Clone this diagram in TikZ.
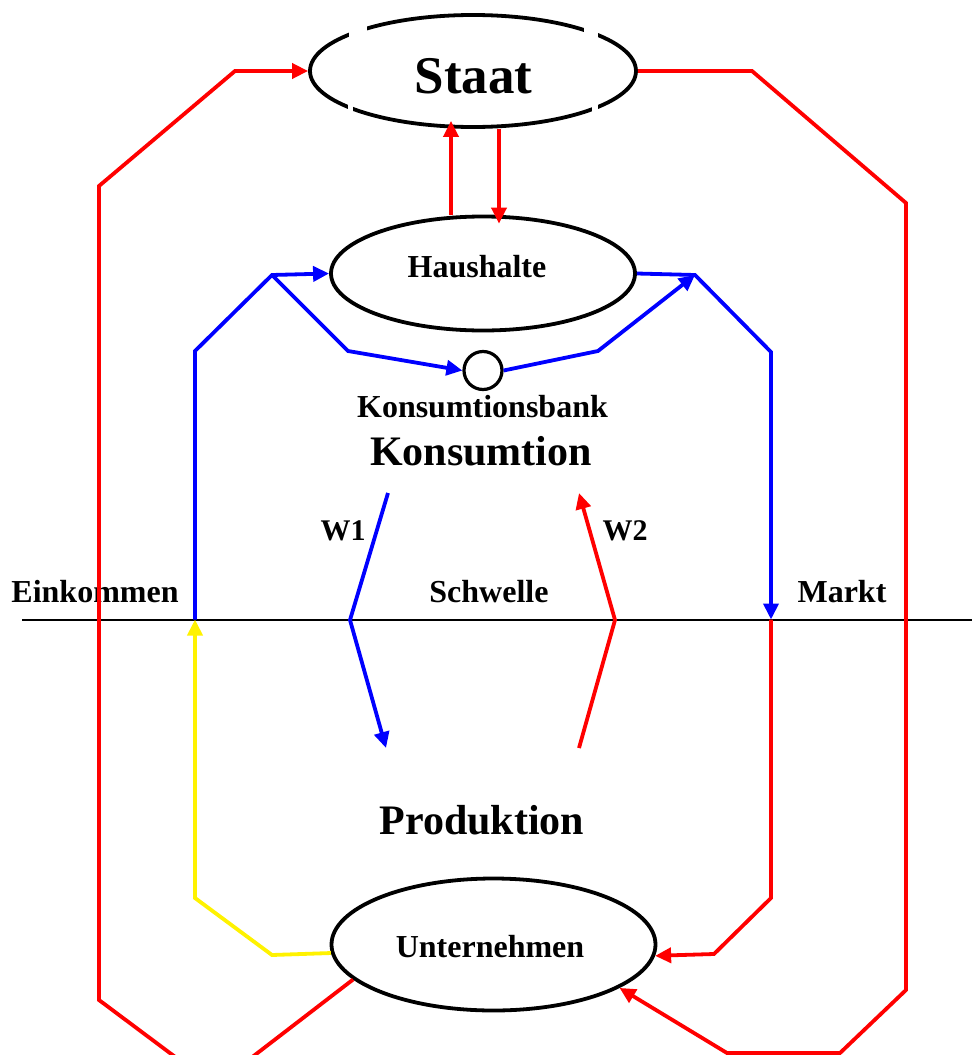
\documentclass[tikz,border=0pt]{standalone}
\usepackage{fontspec}
\setmainfont{Liberation Serif}
\usetikzlibrary{arrows.meta,shapes.geometric,calc}

\begin{document}
\begin{tikzpicture}[x=1pt,y=-1pt,
  oval/.style={draw=black, line width=3.8pt, ellipse, inner sep=0pt},
  txt/.style={font=\bfseries\fontsize{32}{38}\selectfont, inner sep=0pt, anchor=base},
  big/.style={font=\bfseries\fontsize{42}{48}\selectfont},
  flow/.style={line width=3.8pt, line join=miter},
  tip/.style={-{Triangle[length=16pt,width=15pt]}},
  rflow/.style={flow, red},
  bflow/.style={flow, blue},
  yflow/.style={flow, yellow}]
\useasboundingbox (0,0) rectangle (972,1055);
\clip (0,0) rectangle (972,1055);

% texts
\node[txt, font=\bfseries\fontsize{53}{60}\selectfont] (tStaat) at (473.5,93) {Staat};
\node[txt] (tHaus) at (477,277) {Haushalte};
\node[txt] (tBank) at (482.5,417) {Konsumtionsbank};
\node[txt, big] (tKons) at (481,465) {Konsumtion};
\node[txt, font=\bfseries\fontsize{30}{36}\selectfont] (tW1) at (343,540) {W1};
\node[txt, font=\bfseries\fontsize{30}{36}\selectfont] (tW2) at (625,540) {W2};
\node[txt] (tEink) at (95,602) {Einkommen};
\node[txt] (tSchw) at (489,602) {Schwelle};
\node[txt] (tMarkt) at (842,602) {Markt};
\node[txt, big] (tProd) at (482,834) {Produktion};
\node[txt] (tUnt) at (490,957) {Unternehmen};

% sectors
\node[oval, minimum width=326pt, minimum height=112pt] (staat) at (473,71) {};
\node[oval, minimum width=304pt, minimum height=114pt] (haus) at (483,273.5) {};
\node[oval, minimum width=324pt, minimum height=132pt] (unt) at (493.5,944.5) {};
\node[draw, circle, line width=3.2pt, minimum size=38pt, inner sep=0pt] (kb) at (483,370.5) {};

% small breaks in the outline of the Staat oval
\fill[white] (349,24) rectangle (367,39);
\fill[white] (584,24) rectangle (598,39);
\fill[white] (348,102) rectangle (353,115);
\fill[white] (592,102) rectangle (598,115);

% threshold line
\coordinate (axL) at (22,619.5);
\coordinate (axR) at (972,619.5);
\draw[line width=2pt] (axL) -- (axR);

% Staat <-> Haushalte
\coordinate (xUp) at (451,0);
\coordinate (xDn) at (499,0);
\coordinate (sIn) at ($(staat.south)+(0,-8)$);
\coordinate (hIn) at ($(haus.north)+(0,9)$);
\draw[rflow, tip] (haus.north -| xUp) -- (sIn -| xUp);
\draw[rflow, tip] (staat.south -| xDn) -- (hIn -| xDn);

% income: Unternehmen -> Schwelle -> Haushalte
\coordinate (ein) at (195,619.5);
\coordinate (hl) at (272,275);
\draw[yflow, tip] (unt.183.7) -- (272,955) -- (195,898) -- (ein);
\draw[bflow, tip] (ein) -- (195,351) -- (hl) -- (haus.west);
\draw[bflow, tip] (hl) -- (348,351) -- (kb.west);

% spending: Haushalte -> Markt
\coordinate (hr) at (695,275);
\coordinate (mkt) at (771,619.5);
\draw[bflow, tip] (kb.east) -- (598,351) -- (hr);
\draw[bflow, tip] (haus.east) -- (hr) -- (771,352) -- (mkt);
\draw[rflow, tip] (mkt) -- (771,898) -- (714,954) -- (unt.356.6);

% W1 and W2
\coordinate (w1a) at (388,493);
\coordinate (w1b) at (350,620);
\coordinate (w1c) at (386,748);
\draw[bflow, tip] (w1a) -- (w1b) -- (w1c);
\coordinate (w2a) at (579,748);
\coordinate (w2b) at (615,620);
\coordinate (w2c) at (579,493);
\draw[rflow, tip] (w2a) -- (w2b) -- (w2c);

% outer loops via the Staat
\draw[rflow, tip] (unt.194.5) -- (238,1068) -- (190,1068) -- (99,1000)
  -- (99,186) -- (235,71) -- (staat.west);
\draw[rflow, tip] (staat.east) -- (752,71) -- (906,203) -- (906,990)
  -- (840,1053) -- (727,1053) -- (unt.341.4);
\end{tikzpicture}
\end{document}
